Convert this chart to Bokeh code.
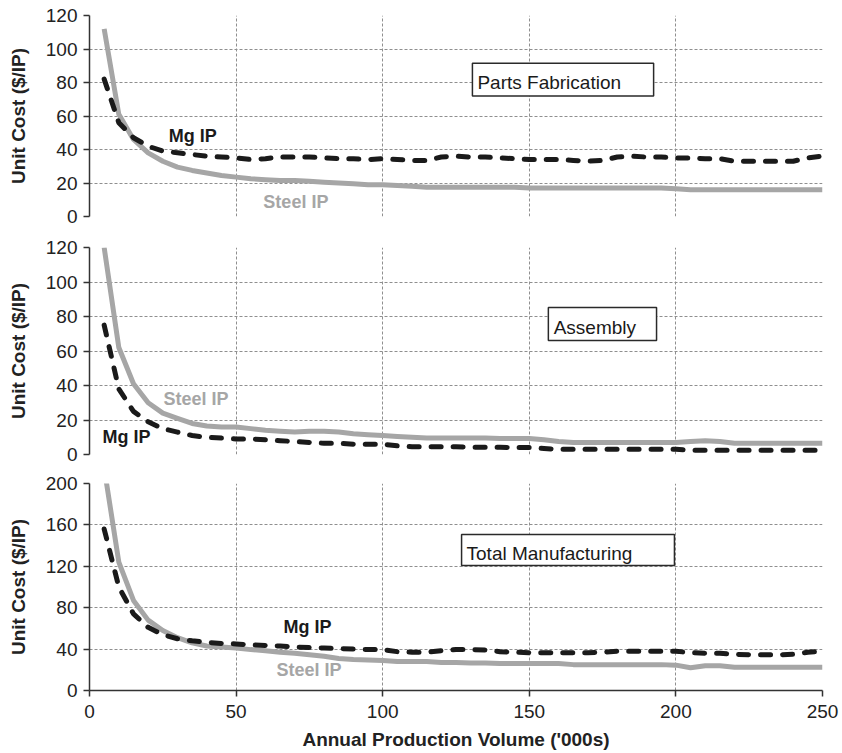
from bokeh.plotting import figure
from bokeh.layouts import column
from bokeh.models import Range1d, FixedTicker, BoxAnnotation, Label
from bokeh.embed import file_html
from bokeh.resources import INLINE

# ---------------- data ----------------
volume = [5, 10, 15, 20, 25, 30, 35, 40, 45, 50,
          55, 60, 65, 70, 75, 80, 85, 90, 95, 100,
          105, 110, 115, 120, 125, 130, 135, 140, 145, 150,
          155, 160, 165, 170, 175, 180, 185, 190, 195, 200,
          205, 210, 215, 220, 225, 230, 235, 240, 245, 250]

parts_steel = [112, 61, 46, 38, 33, 29.5, 27.5, 26, 24.5, 23.5,
               22.5, 22, 21.5, 21.5, 21, 20.5, 20, 19.5, 19, 19,
               18.5, 18, 17.5, 17.5, 17.5, 17.5, 17.5, 17.5, 17.5, 17,
               17, 17, 17, 17, 17, 17, 17, 17, 17, 16.5,
               16, 16, 16, 16, 16, 16, 16, 16, 16, 16]
parts_mg = [82, 56, 47, 42, 39, 38, 37, 36, 35.5, 35,
            34, 34.5, 35.5, 35.5, 35.5, 35, 34.5, 34.5, 34, 34.5,
            34, 33.5, 33.5, 35.5, 36, 35.5, 35.5, 35, 34.5, 34,
            34, 34, 33.5, 33, 33.5, 35.5, 36, 35.5, 35.5, 35,
            35, 34.5, 34.5, 33, 33, 33, 33, 33, 35, 36]

assy_steel = [120, 62, 41, 30, 24, 21, 18, 16.5, 16, 16,
              15, 14, 13.5, 13, 13.5, 13.5, 13, 12, 11.5, 11,
              10.5, 10, 9.5, 9.5, 9.5, 9.5, 9.5, 9.3, 9.3, 9.3,
              8.5, 7.5, 7, 7, 7, 7, 7, 7, 7, 7,
              7.5, 8, 7.5, 6.5, 6.5, 6.5, 6.5, 6.5, 6.5, 6.5]
assy_mg = [75, 38, 25, 19, 15, 13, 11, 10, 9.5, 9,
           9, 8.5, 8, 7.5, 7, 6.5, 6.5, 6, 6, 6,
           5, 4.5, 4.5, 4.5, 4.5, 4.2, 4.2, 4.2, 4, 4,
           3.5, 3, 3, 3, 3, 3, 3, 3, 3, 3,
           2.5, 2.5, 2.5, 2.5, 2.5, 2.5, 2.5, 2.5, 2.5, 2.5]

total_steel = [215, 124, 87, 68, 58, 51, 46, 43, 42, 41,
               39.5, 38.5, 37, 36, 34.5, 33, 31, 30, 29.5, 29,
               28, 28, 28, 27, 27, 26.5, 26.5, 26, 26, 26,
               26, 26, 25, 25, 25, 25, 25, 25, 25, 24.5,
               22, 24, 24, 22.5, 22.5, 22.5, 22.5, 22.5, 22.5, 22.5]
total_mg = [156, 100, 74, 61, 54, 50, 48, 46.5, 45.5, 45,
            44, 43.5, 43, 42, 41.5, 41, 40.5, 40, 39.5, 39.5,
            37.5, 37, 37, 38.5, 39.5, 39.5, 39, 37.5, 37, 36.5,
            36.5, 36.5, 36.5, 36.5, 37, 38, 38, 38, 38, 38,
            36.5, 36, 36, 35, 34.5, 34.5, 34.5, 35, 37, 38]

x_ticks = [0, 50, 100, 150, 200, 250]
y_ticks_small = [0, 20, 40, 60, 80, 100, 120]
y_ticks_total = [0, 40, 80, 120, 160, 200]

panel_titles = ["Parts Fabrication", "Assembly", "Total Manufacturing"]
series_names = ["Steel IP", "Mg IP"]
y_title = "Unit Cost ($/IP)"
x_title = "Annual Production Volume ('000s)"

# ---------------- style ----------------
FONT = "Liberation Sans"
STEEL = "#a6a6a6"
MG = "#1a1a1a"
AXIS = "#333333"
GRID = "#8f8f8f"


def make_panel(steel, mg, ymax, yticks, height, top, bottom, show_x,
               box, box_text_pos, steel_lab, mg_lab, title):
    p = figure(width=842, height=height, output_backend="svg", toolbar_location=None,
               x_range=Range1d(0, 250), y_range=Range1d(0, ymax),
               min_border_left=89, min_border_right=20,
               min_border_top=top, min_border_bottom=bottom)
    p.outline_line_color = None
    p.background_fill_color = "white"

    p.line(volume, steel, line_color=STEEL, line_width=5, line_join="round")
    p.line(volume, mg, line_color=MG, line_width=5, line_dash="10 12",
           line_cap="round", line_join="round")

    p.yaxis.ticker = FixedTicker(ticks=yticks)
    p.xaxis.ticker = FixedTicker(ticks=x_ticks)
    for ax in (p.xaxis[0], p.yaxis[0]):
        ax.axis_line_color = AXIS
        ax.axis_line_width = 1.5
        ax.major_tick_line_color = AXIS
        ax.major_tick_line_width = 1.5
        ax.major_tick_in = 0
        ax.major_tick_out = 6
        ax.minor_tick_line_color = None
        ax.major_label_text_font = FONT
        ax.major_label_text_font_size = "19px"
        ax.major_label_text_color = "#222222"
        ax.major_label_standoff = 6
        ax.axis_label_text_font = FONT
        ax.axis_label_text_font_size = "19px"
        ax.axis_label_text_font_style = "bold"
        ax.axis_label_text_color = "#222222"
    p.yaxis.axis_label = y_title
    p.yaxis.axis_label_standoff = 14
    if show_x:
        p.xaxis.axis_label = x_title
        p.xaxis.major_label_standoff = 8
        p.xaxis.axis_label_standoff = 8
    else:
        p.xaxis.visible = False

    for g in (p.xgrid[0], p.ygrid[0]):
        g.grid_line_color = GRID
        g.grid_line_dash = "3 2"
        g.grid_line_width = 1
    p.xgrid.ticker = FixedTicker(ticks=x_ticks)
    p.ygrid.ticker = FixedTicker(ticks=yticks)

    l, r, b, t = box
    p.add_layout(BoxAnnotation(left=l, right=r, bottom=b, top=t,
                               fill_color="white", fill_alpha=1.0,
                               line_color="#2a2a2a", line_alpha=1.0, line_width=1.5))
    p.add_layout(Label(x=box_text_pos[0], y=box_text_pos[1], text=title,
                       text_font=FONT, text_font_size="19px", text_color="#1a1a1a",
                       text_baseline="middle"))
    p.add_layout(Label(x=steel_lab[0], y=steel_lab[1], text=series_names[0],
                       text_font=FONT, text_font_size="18px", text_font_style="bold",
                       text_color=STEEL, text_baseline="middle"))
    p.add_layout(Label(x=mg_lab[0], y=mg_lab[1], text=series_names[1],
                       text_font=FONT, text_font_size="18px", text_font_style="bold",
                       text_color=MG, text_baseline="middle"))
    return p


p1 = make_panel(parts_steel, parts_mg, 120, y_ticks_small, 231, 15, 15, False,
                (130.6, 192.4, 71.9, 91.5), (132.3, 80.2), (59.3, 8.9), (27, 48),
                panel_titles[0])
p2 = make_panel(assy_steel, assy_mg, 120, y_ticks_small, 237, 16, 14, False,
                (156.5, 193.4, 66.1, 85.2), (158.3, 73.6), (25.2, 31.9), (4.4, 9.9),
                panel_titles[1])
p3 = make_panel(total_steel, total_mg, 200, y_ticks_total, 284, 15, 62, True,
                (126.9, 199.5, 120.8, 150.7), (128.6, 132.4), (63.8, 20), (66.2, 61),
                panel_titles[2])

layout = column(p1, p2, p3, spacing=0)
open("out.html", "w").write(file_html(layout, INLINE))
